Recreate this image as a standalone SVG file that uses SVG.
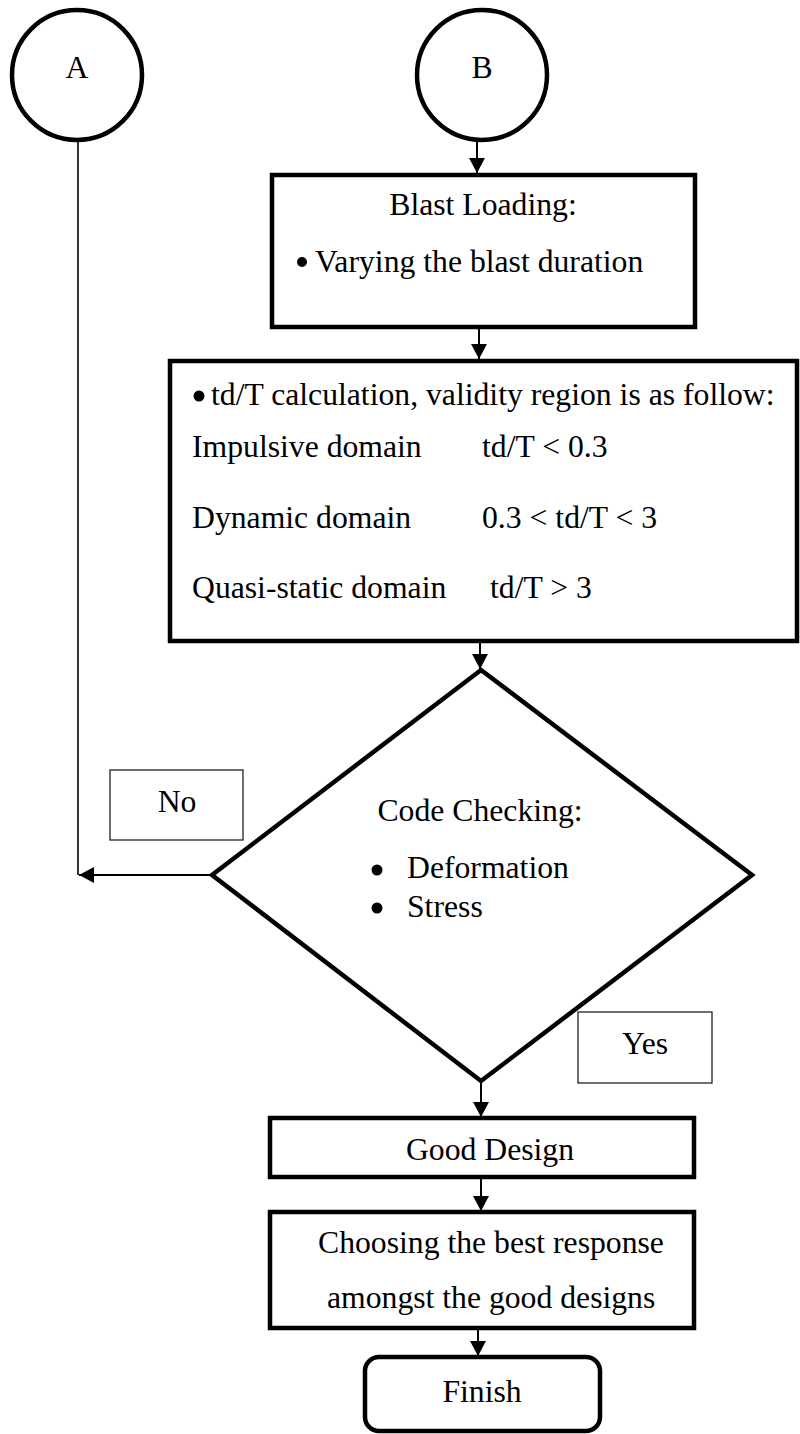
<svg xmlns="http://www.w3.org/2000/svg" width="800" height="1434" viewBox="0 0 800 1434">
<style>
  .t { font-family: "Liberation Serif", "Times New Roman", serif; font-size: 31.7px; fill: #000; }
  .c { text-anchor: middle; }
  .node { fill: #fff; stroke: #000; stroke-width: 4.5; }
  .lbl { fill: #fff; stroke: #222; stroke-width: 1.3; }
  .conn { fill: none; stroke: #000; stroke-width: 2; }
  .thin { fill: none; stroke: #000; stroke-width: 1.6; }
  .dot { fill: #000; }
</style>
<defs>
  <marker id="ah" markerUnits="userSpaceOnUse" markerWidth="16" markerHeight="16" refX="15" refY="8" orient="auto">
    <path d="M0,0 L15,8 L0,16 z" fill="#000"/>
  </marker>
</defs>
<rect width="800" height="1434" fill="#fff"/>

<g id="connectors">
  <line class="thin" x1="78" y1="141" x2="78" y2="875"/>
  <line class="conn" x1="477" y1="141" x2="477" y2="173" marker-end="url(#ah)"/>
  <line class="conn" x1="479" y1="329" x2="479" y2="359" marker-end="url(#ah)"/>
  <line class="conn" x1="480" y1="643" x2="480" y2="669" marker-end="url(#ah)"/>
  <line class="conn" x1="212" y1="875" x2="79" y2="875" marker-end="url(#ah)"/>
  <line class="conn" x1="481" y1="1083" x2="481" y2="1117" marker-end="url(#ah)"/>
  <line class="conn" x1="481" y1="1179" x2="481" y2="1211" marker-end="url(#ah)"/>
  <line class="conn" x1="478" y1="1326" x2="478" y2="1356" marker-end="url(#ah)"/>
</g>

<g id="nodeA">
  <circle class="node" cx="77" cy="75" r="65"/>
  <text class="t c" x="77" y="78">A</text>
</g>

<g id="nodeB">
  <circle class="node" cx="482" cy="75" r="65"/>
  <text class="t c" x="482" y="78">B</text>
</g>

<g id="blast">
  <rect class="node" x="272" y="175" width="423" height="152"/>
  <text class="t c" x="483" y="215">Blast Loading:</text>
  <circle class="dot" cx="302" cy="262" r="5"/>
  <text class="t" x="315" y="272">Varying the blast duration</text>
</g>

<g id="tdT">
  <rect class="node" x="170" y="361" width="627" height="280"/>
  <circle class="dot" cx="199" cy="396" r="5.5"/>
  <text class="t" x="211" y="405">td/T calculation, validity region is as follow:</text>
  <text class="t" x="192" y="457">Impulsive domain</text>
  <text class="t" x="482" y="457">td/T &lt; 0.3</text>
  <text class="t" x="192" y="528">Dynamic domain</text>
  <text class="t" x="482" y="528">0.3 &lt; td/T &lt; 3</text>
  <text class="t" x="192" y="598">Quasi-static domain</text>
  <text class="t" x="490" y="598">td/T &gt; 3</text>
</g>

<g id="decision">
  <polygon class="node" points="481,670 752,875 481,1081 212,875"/>
  <text class="t c" x="480" y="821">Code Checking:</text>
  <circle class="dot" cx="377" cy="870" r="5.5"/>
  <text class="t" x="407" y="878">Deformation</text>
  <circle class="dot" cx="377" cy="908" r="5.5"/>
  <text class="t" x="407" y="917">Stress</text>
</g>

<g id="no-label">
  <rect class="lbl" x="110" y="770" width="133" height="70"/>
  <text class="t c" x="177" y="812">No</text>
</g>

<g id="yes-label">
  <rect class="lbl" x="578" y="1012" width="134" height="71"/>
  <text class="t c" x="645" y="1054">Yes</text>
</g>

<g id="good">
  <rect class="node" x="270" y="1118" width="424" height="59"/>
  <text class="t c" x="490" y="1160">Good Design</text>
</g>

<g id="choose">
  <rect class="node" x="270" y="1212" width="424" height="116"/>
  <text class="t" x="318" y="1253">Choosing the best response</text>
  <text class="t" x="327" y="1308">amongst the good designs</text>
</g>

<g id="finish">
  <rect class="node" x="365" y="1357" width="235" height="74" rx="14" ry="14"/>
  <text class="t c" x="482" y="1402">Finish</text>
</g>
</svg>
